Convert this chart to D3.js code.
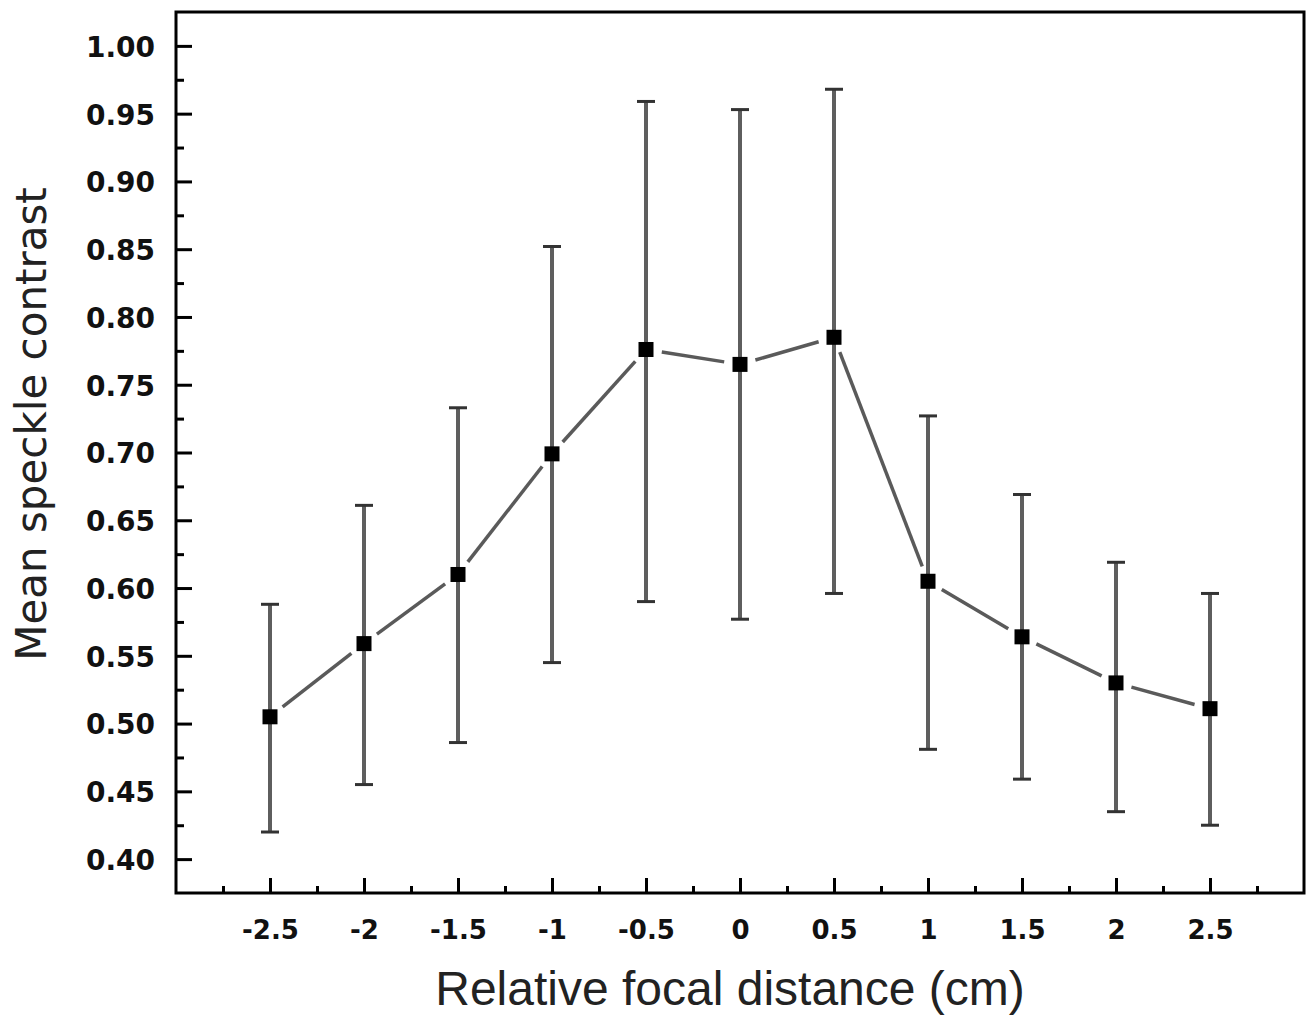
<!DOCTYPE html>
<html lang="en">
<head>
    <meta charset="UTF-8">
    <title>Mean speckle contrast vs relative focal distance</title>
    <script src="https://d3js.org/d3.v7.min.js"></script>
    <style>
        body {
            margin: 0;
            background: #fff;
        }
        .tick text {
            font-family: "DejaVu Sans", sans-serif;
            font-weight: bold;
            fill: #111;
        }
        .axis-title {
            fill: #222;
        }
    </style>
</head>
<body>
    <div id="chart"></div>
    <script>
        // values
        const focalDistance = [-2.5, -2, -1.5, -1, -0.5, 0, 0.5, 1, 1.5, 2, 2.5];
        const meanContrast  = [0.505, 0.559, 0.610, 0.699, 0.776, 0.765, 0.785, 0.605, 0.564, 0.530, 0.511];
        const upperBound    = [0.588, 0.661, 0.733, 0.852, 0.959, 0.953, 0.968, 0.727, 0.669, 0.619, 0.596];
        const lowerBound    = [0.420, 0.455, 0.486, 0.545, 0.590, 0.577, 0.596, 0.481, 0.459, 0.435, 0.425];

        const xTicks = [-2.5, -2, -1.5, -1, -0.5, 0, 0.5, 1, 1.5, 2, 2.5];
        const xMinorTicks = [-2.75, -2.25, -1.75, -1.25, -0.75, -0.25, 0.25, 0.75, 1.25, 1.75, 2.25, 2.75];
        const yTicks = [0.40, 0.45, 0.50, 0.55, 0.60, 0.65, 0.70, 0.75, 0.80, 0.85, 0.90, 0.95, 1.00];
        const yMinorTicks = [0.425, 0.475, 0.525, 0.575, 0.625, 0.675, 0.725, 0.775, 0.825, 0.875, 0.925, 0.975];

        const width = 1311, height = 1022;
        const plotLeft = 176, plotRight = 1304, plotTop = 12, plotBottom = 893;

        const svg = d3.select("#chart").append("svg")
            .attr("width", width)
            .attr("height", height);

        const x = d3.scaleLinear().domain([-3, 3]).range([plotLeft, plotRight]);
        const y = d3.scaleLinear().domain([0.375, 1.025]).range([plotBottom, plotTop]);

        // minor ticks (inward)
        svg.append("g")
            .attr("transform", `translate(0,${plotBottom})`)
            .call(d3.axisBottom(x).tickValues(xMinorTicks).tickSize(-7).tickSizeOuter(0).tickFormat(""))
            .call(g => g.select(".domain").remove())
            .call(g => g.selectAll("line").attr("stroke", "#000").attr("stroke-width", 3));

        svg.append("g")
            .attr("transform", `translate(${plotLeft},0)`)
            .call(d3.axisLeft(y).tickValues(yMinorTicks).tickSize(-8).tickSizeOuter(0).tickFormat(""))
            .call(g => g.select(".domain").remove())
            .call(g => g.selectAll("line").attr("stroke", "#000").attr("stroke-width", 3));

        // major ticks + labels
        svg.append("g")
            .attr("transform", `translate(0,${plotBottom})`)
            .call(d3.axisBottom(x).tickValues(xTicks).tickSize(-15).tickSizeOuter(0)
                .tickPadding(28).tickFormat(d => String(d)))
            .call(g => g.select(".domain").remove())
            .call(g => g.selectAll("line").attr("stroke", "#000").attr("stroke-width", 3))
            .call(g => g.selectAll("text").style("font-size", "26px"));

        svg.append("g")
            .attr("transform", `translate(${plotLeft},0)`)
            .call(d3.axisLeft(y).tickValues(yTicks).tickSize(-16).tickSizeOuter(0)
                .tickPadding(21).tickFormat(d3.format(".2f")))
            .call(g => g.select(".domain").remove())
            .call(g => g.selectAll("line").attr("stroke", "#000").attr("stroke-width", 3))
            .call(g => g.selectAll("text").style("font-size", "28px").attr("dy", "0.37em"));

        // frame
        svg.append("rect")
            .attr("x", plotLeft)
            .attr("y", plotTop)
            .attr("width", plotRight - plotLeft)
            .attr("height", plotBottom - plotTop)
            .attr("fill", "none")
            .attr("stroke", "#000")
            .attr("stroke-width", 3);

        const points = focalDistance.map((d, i) => ({
            x: d, v: meanContrast[i], hi: upperBound[i], lo: lowerBound[i]
        }));

        // error bars
        const bars = svg.append("g").attr("class", "errorbars");
        bars.selectAll("line.bar")
            .data(points)
            .join("line")
            .attr("class", "bar")
            .attr("x1", d => x(d.x)).attr("x2", d => x(d.x))
            .attr("y1", d => y(d.hi)).attr("y2", d => y(d.lo))
            .attr("stroke", "#5e5e5e")
            .attr("stroke-width", 4);

        ["hi", "lo"].forEach(key => {
            bars.selectAll("line.cap-" + key)
                .data(points)
                .join("line")
                .attr("class", "cap-" + key)
                .attr("x1", d => x(d.x) - 9).attr("x2", d => x(d.x) + 9)
                .attr("y1", d => y(d[key])).attr("y2", d => y(d[key]))
                .attr("stroke", "#333")
                .attr("stroke-width", 3);
        });

        // connecting line, with small gaps around the markers
        const gap = 16;
        const segments = d3.pairs(points).map(([a, b]) => {
            const x0 = x(a.x), y0 = y(a.v), x1 = x(b.x), y1 = y(b.v);
            const len = Math.hypot(x1 - x0, y1 - y0);
            const ux = (x1 - x0) / len, uy = (y1 - y0) / len;
            return [x0 + ux * gap, y0 + uy * gap, x1 - ux * gap, y1 - uy * gap];
        });
        svg.append("g").selectAll("line")
            .data(segments)
            .join("line")
            .attr("x1", d => d[0]).attr("y1", d => d[1])
            .attr("x2", d => d[2]).attr("y2", d => d[3])
            .attr("stroke", "#5a5a5a")
            .attr("stroke-width", 3.5);

        // markers
        const ms = 15;
        svg.append("g").selectAll("rect")
            .data(points)
            .join("rect")
            .attr("x", d => x(d.x) - ms / 2)
            .attr("y", d => y(d.v) - ms / 2)
            .attr("width", ms)
            .attr("height", ms)
            .attr("fill", "#000");

        // axis titles
        svg.append("text")
            .attr("class", "axis-title")
            .attr("x", (plotLeft + plotRight) / 2 - 10)
            .attr("y", 1005)
            .attr("text-anchor", "middle")
            .style("font-family", "'Liberation Sans', Arial, sans-serif")
            .style("font-size", "48px")
            .text("Relative focal distance (cm)");

        svg.append("text")
            .attr("class", "axis-title")
            .attr("transform", "translate(46,424) rotate(-90)")
            .attr("text-anchor", "middle")
            .style("font-family", "'DejaVu Sans', sans-serif")
            .style("font-size", "42px")
            .text("Mean speckle contrast");
    </script>
</body>
</html>
